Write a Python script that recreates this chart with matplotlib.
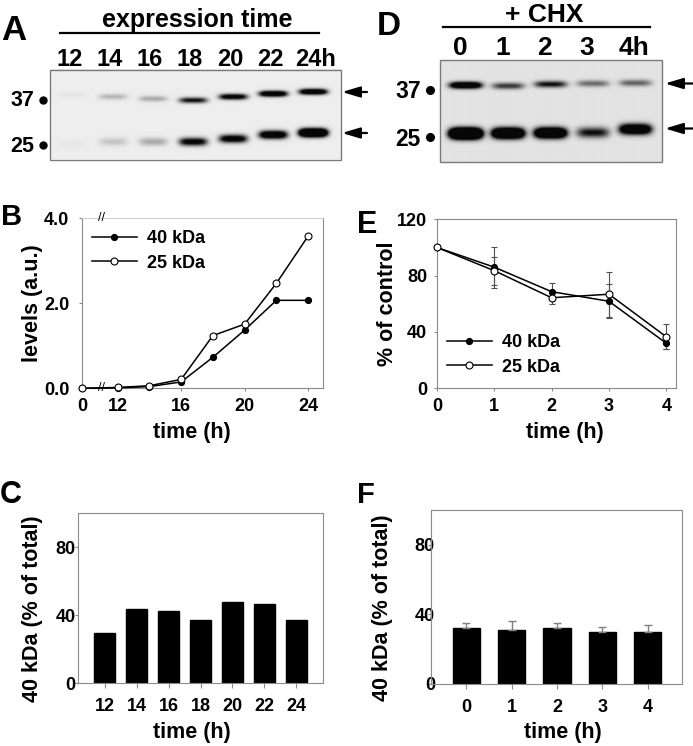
import matplotlib
matplotlib.use('Agg')
import matplotlib.pyplot as plt
from matplotlib.lines import Line2D
import numpy as np

plt.rcParams['font.family'] = ['Liberation Sans', 'DejaVu Sans']
plt.rcParams['font.weight'] = 'bold'
plt.rcParams['axes.labelweight'] = 'bold'

# blot A: expression time course
A_lanes = ['12', '14', '16', '18', '20', '22', '24h']
A_band37 = [0.04, 0.25, 0.3, 1.0, 1.3, 1.6, 1.6]
A_band25 = [0.03, 0.18, 0.3, 1.2, 1.3, 1.6, 2.6]

# blot D: + CHX chase
D_lanes = ['0', '1', '2', '3', '4h']
D_band37 = [1.8, 0.8, 1.0, 0.55, 0.6]
D_band25 = [3.5, 2.6, 2.4, 1.0, 1.9]

# panel B
B_hours = np.array([0, 12, 14, 16, 18, 20, 22, 24])
B_40kDa = [0.0, 0.01, 0.04, 0.15, 0.73, 1.37, 2.07, 2.07]
B_25kDa = [0.0, 0.02, 0.06, 0.21, 1.24, 1.51, 2.47, 3.58]

# panel E
E_hours = [0, 1, 2, 3, 4]
E_40kDa = [100, 86, 68.6, 61.8, 32]
E_40err = [0, 14.5, 6, 12, 4]
E_25kDa = [100, 83.5, 64.3, 66.8, 36.6]
E_25err = [0, 10, 4.5, 16, 9]

# panel C
C_hours = ['12', '14', '16', '18', '20', '22', '24']
C_vals = [29.2, 43.3, 42.2, 37.3, 47.5, 46.5, 37.3]

# panel F
F_hours = ['0', '1', '2', '3', '4']
F_vals = [32, 31, 32, 30, 30]
F_err = [3, 5, 3, 3, 4]

W, H = 693, 746
fig = plt.figure(figsize=(W / 100, H / 100), dpi=100)
SPINE = '#8a8a8a'
TICK = 13
LAB = 15.5


def px_axes(l, t, r, b):
    ax = fig.add_axes([l / W, 1 - b / H, (r - l) / W, (b - t) / H])
    for s in ax.spines.values():
        s.set_color(SPINE)
        s.set_linewidth(0.8)
    ax.tick_params(direction='out', length=2.2, width=0.8, color=SPINE,
                   labelsize=TICK)
    return ax


def legend_handles():
    return [Line2D([], [], color='black', lw=1.1, marker='o', ms=4.2,
                   mfc='black', mec='black'),
            Line2D([], [], color='black', lw=1.1, marker='o', ms=5,
                   mfc='white', mec='black', mew=0.8)]


# overlay in pixel coordinates for blots and annotations
ov = fig.add_axes([0, 0, 1, 1])
ov.axis('off')


def blot(extent, centers, rows37, rows25, amp37, amp25, hw, s37, s25, bg):
    l, r, b, t = extent
    xs = np.arange(l, r, 0.5)
    ys = np.arange(t, b, 0.5)
    X, Y = np.meshgrid(xs, ys)
    dark = np.zeros_like(X)
    for xc, y1, y2, a1, a2 in zip(centers, rows37, rows25, amp37, amp25):
        prof = np.exp(-((X - xc) / hw) ** 4)
        dark += a1 * prof * np.exp(-0.5 * ((Y - y1) / s37) ** 2)
        dark += a2 * prof * np.exp(-0.5 * ((Y - y2) / s25) ** 2)
    dark = np.clip(dark, 0, 1)
    img = bg - dark * (bg - 0.03)
    ov.imshow(img, extent=(l, r, b, t), cmap='gray', vmin=0, vmax=1,
              aspect='auto', interpolation='bilinear')
    ov.add_patch(plt.Rectangle((l, t), r - l, b - t, fill=False,
                               edgecolor='#7a7a7a', lw=1))


def arrow(x_tip, x_tail, y):
    ov.annotate('', xy=(x_tip, y), xytext=(x_tail, y),
                arrowprops=dict(arrowstyle='-|>,head_length=0.6,head_width=0.18',
                                mutation_scale=18, color='black', lw=1.6,
                                shrinkA=0, shrinkB=0))


# ---- blot A
A_cent = 73 + 40 * np.arange(len(A_lanes))
blot((50, 341, 159.5, 69.5), A_cent,
     [95, 97, 99, 100.5, 97, 94, 92], [144, 142, 142, 142, 139, 135, 133],
     A_band37, A_band25, 14, 2.0, 2.8, 0.93)
ov.text(197, 26.5, 'expression time', ha='center', va='baseline', fontsize=18)
ov.plot([60, 319], [33, 33], color='black', lw=1.6)
for i, lab in enumerate(A_lanes):
    ov.text(A_cent[i] - 3 + (6 if lab.endswith('h') else 0), 66.5, lab,
            ha='center', va='baseline', fontsize=17)
ov.text(34, 106, '37', ha='right', va='baseline', fontsize=15.5)
ov.text(34, 151.5, '25', ha='right', va='baseline', fontsize=15.5)
ov.plot([42.5, 42.5], [99.5, 145], 'o', color='black', ms=5, ls='none')
arrow(342, 367, 92)
arrow(342, 367, 133)
ov.text(1, 40, 'A', ha='left', va='baseline', fontsize=25)

# ---- blot D
D_cent = 465 + 42.3 * np.arange(len(D_lanes))
blot((439.5, 662, 162, 60), D_cent,
     [85, 85.7, 84, 83.3, 82.7], [133.3, 133, 132.7, 132.3, 129],
     D_band37, D_band25, 16, 2.3, 3.6, 0.89)
ov.text(544, 21.5, '+ CHX', ha='center', va='baseline', fontsize=19)
ov.plot([443, 650], [27, 27], color='black', lw=1.6)
for i, lab in enumerate(D_lanes):
    ov.text(D_cent[i] - 5 + (5 if lab.endswith('h') else 0), 55, lab,
            ha='center', va='baseline', fontsize=19)
ov.text(421, 97.5, '37', ha='right', va='baseline', fontsize=16.5)
ov.text(421, 146.5, '25', ha='right', va='baseline', fontsize=16.5)
ov.plot([430, 430], [90, 137], 'o', color='black', ms=5.5, ls='none')
arrow(665, 693, 83.5)
arrow(665, 693, 128.5)
ov.text(377, 35, 'D', ha='left', va='baseline', fontsize=24)

ov.text(1, 225, 'B', ha='left', va='baseline', fontsize=21)
ov.text(357, 233, 'E', ha='left', va='baseline', fontsize=22)
ov.text(0, 503, 'C', ha='left', va='baseline', fontsize=22)
ov.text(357, 503, 'F', ha='left', va='baseline', fontsize=21)
ov.set_xlim(0, W)
ov.set_ylim(H, 0)

# ---- panel B (broken time axis)
axB = px_axes(82, 218.3, 323, 388.3)
axB.spines['top'].set_color('#d0d0d0')
xpos = np.where(B_hours == 0, 9.75, B_hours)
axB.plot(xpos, B_40kDa, '-o', color='black', lw=1.1, ms=4.2,
         mfc='black', mec='black', clip_on=False, zorder=3)
axB.plot(xpos, B_25kDa, '-o', color='black', lw=1.1, ms=5,
         mfc='white', mec='black', mew=0.8, clip_on=False, zorder=3)
axB.set_xlim(9.75, 24.94)
axB.set_ylim(0, 4)
axB.set_xticks([9.75, 12, 16, 20, 24], ['0', '12', '16', '20', '24'])
axB.set_yticks([0, 2, 4], ['0.0', '2.0', '4.0'])
axB.tick_params(axis='x', pad=5)
axB.tick_params(axis='y', pad=7)
for yy in (0, 1):
    axB.text(11.0, yy, '//', transform=axB.get_xaxis_transform(),
             ha='center', va='center', fontsize=9, fontweight='normal',
             clip_on=False, zorder=5)
axB.set_ylabel('levels (a.u.)', fontsize=LAB)
axB.yaxis.set_label_coords(-0.16, 0.5)
axB.set_xlabel('time (h)', fontsize=LAB)
axB.xaxis.set_label_coords(0.456, -0.198)
axB.legend(legend_handles(), ['40 kDa', '25 kDa'], loc='upper left',
           bbox_to_anchor=(0.04, 0.93), frameon=False, fontsize=13,
           handlelength=2.5, handletextpad=0.55, labelspacing=0.42,
           borderpad=0, borderaxespad=0)

# ---- panel E
axE = px_axes(437, 219.3, 676, 388.3)
for vals, err in ((E_40kDa, E_40err), (E_25kDa, E_25err)):
    axE.errorbar(E_hours, vals, yerr=err, fmt='none', ecolor='#505050',
                 elinewidth=0.8, capsize=2.5, capthick=0.8, clip_on=False,
                 zorder=2)
axE.plot(E_hours, E_40kDa, '-o', color='black', lw=1.1, ms=4.2,
         mfc='black', mec='black', clip_on=False, zorder=3)
axE.plot(E_hours, E_25kDa, '-o', color='black', lw=1.1, ms=5,
         mfc='white', mec='black', mew=0.8, clip_on=False, zorder=3)
axE.set_xlim(0, 4.17)
axE.set_ylim(0, 120)
axE.set_xticks(E_hours)
axE.set_yticks([0, 40, 80, 120])
axE.tick_params(axis='x', pad=5)
axE.tick_params(axis='y', pad=5)
axE.set_ylabel('% of control', fontsize=LAB)
axE.yaxis.set_label_coords(-0.162, 0.5)
axE.set_xlabel('time (h)', fontsize=LAB)
axE.xaxis.set_label_coords(0.536, -0.2)
axE.legend(legend_handles(), ['40 kDa', '25 kDa'], loc='upper left',
           bbox_to_anchor=(0.04, 0.32), frameon=False, fontsize=13,
           handlelength=2.5, handletextpad=0.55, labelspacing=0.42,
           borderpad=0, borderaxespad=0)

# ---- panel C
axC = px_axes(78, 513, 323, 683)
xc = np.arange(len(C_hours))
axC.bar(xc, C_vals, width=0.66, color='black', edgecolor='black')
axC.set_xlim(-0.84, len(C_hours) - 0.16)
axC.set_ylim(0, 100)
axC.set_xticks(xc, C_hours)
axC.set_yticks([0, 40, 80])
axC.tick_params(axis='x', length=3.5, pad=7.5)
axC.tick_params(axis='y', pad=-0.5)
axC.set_ylabel('40 kDa (% of total)', fontsize=LAB)
axC.yaxis.set_label_coords(-0.143, 0.44)
axC.set_xlabel('time (h)', fontsize=LAB)
axC.xaxis.set_label_coords(0.465, -0.229)

# ---- panel F
axF = px_axes(431, 510, 682, 684)
xf = np.arange(len(F_hours))
axF.bar(xf, F_vals, width=0.6, color='black', edgecolor='black', zorder=2)
axF.errorbar(xf, F_vals, yerr=[np.zeros(len(F_err)), F_err], fmt='none',
             ecolor='#808080', elinewidth=1, capsize=3, capthick=1, zorder=3)
axF.set_xlim(-0.78, len(F_hours) - 0.24)
axF.set_ylim(0, 100)
axF.set_xticks(xf, F_hours)
axF.set_yticks([0, 40, 80])
axF.tick_params(axis='x', length=3.5, pad=7.5)
axF.tick_params(axis='y', pad=-5)
axF.set_ylabel('40 kDa (% of total)', fontsize=LAB)
axF.yaxis.set_label_coords(-0.151, 0.437)
axF.set_xlabel('time (h)', fontsize=LAB)
axF.xaxis.set_label_coords(0.526, -0.218)

fig.savefig('out.png', dpi=100)
